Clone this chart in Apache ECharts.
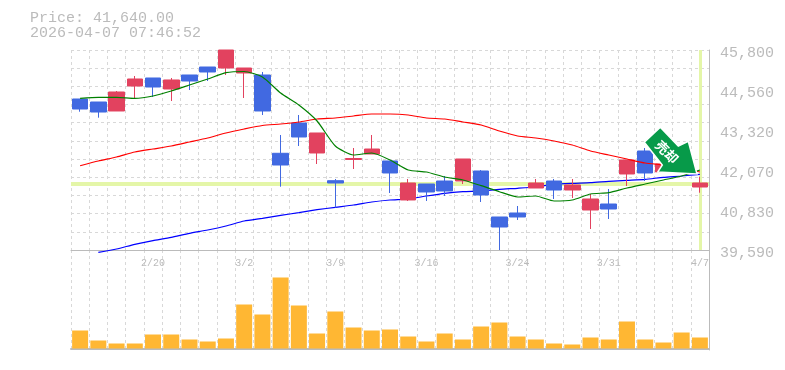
<!DOCTYPE html>
<html><head><meta charset="utf-8">
<style>html,body{margin:0;padding:0;background:#fff}#c{width:785px;height:370px}</style>
<script src="https://cdn.jsdelivr.net/npm/echarts@6/dist/echarts.min.js"></script>
</head><body><div id="c"></div>
<script>
const dates = ['2/16','2/17','2/18','2/19','2/20','2/24','2/25','2/26','2/27','3/2','3/3','3/4','3/5','3/6','3/9','3/10','3/11','3/12','3/13','3/16','3/17','3/18','3/19','3/23','3/24','3/25','3/26','3/27','3/30','3/31','4/1','4/2','4/3','4/6','4/7'];
const shownDates = ['2/20','3/2','3/9','3/16','3/24','3/31','4/7'];
const priceTicks = [39590,40830,42070,43320,44560,45800];
// open, close, low, high
const candles = [
[44279,43968,43884,44279],[44185,43874,43698,44185],[43906,44496,43906,44527],[44682,44900,44300,44993],
[44931,44651,44341,44931],[44589,44869,44216,44931],[45024,44837,44558,45024],[45272,45117,44837,45272],
[45241,45800,45024,45800],[45086,45241,44310,45241],[45024,43906,43782,45117],[42593,42229,41555,43161],
[43533,43099,42819,43782],[42602,43223,42260,43223],[41742,41670,40903,41795],[42400,42431,42105,42757],
[42571,42726,42571,43161],[42354,41981,41360,42354],[41143,41670,41112,41795],[41639,41391,41112,41639],
[41732,41422,41267,41888],[41732,42416,41639,42416],[42043,41298,41080,42074],[40615,40304,39590,40615],
[40739,40615,40522,40956],[41515,41670,41515,41795],[41732,41453,41174,41795],[41453,41608,41205,41795],
[40832,41174,40242,41329],[41018,40863,40553,41484],[41950,42385,41577,42385],[42664,41981,41732,42757],
[42012,42260,42012,42260],[42633,42074,42074,42633],[41546,41670,41369,41865]];
const maShort = [44300,44331,44331,44300,44372,44527,44713,44900,45095,45132,44962,44465,44092,43595,42819,42540,42602,42385,42074,42012,41857,41764,41587,41400,41236,41267,41112,41143,41329,41369,41515,41639,41764,41888,42074];
const maMid = [42207,42354,42478,42633,42726,42819,42943,43068,43223,43347,43456,43502,43564,43658,43689,43751,43813,43813,43782,43689,43658,43564,43471,43285,43130,43068,42974,42850,42664,42540,42416,42291,42229,42136,42012];
const maLong = ['-',39519,39621,39767,39879,39984,40108,40211,40335,40490,40574,40667,40748,40841,40916,40987,41080,41143,41174,41267,41351,41400,41422,41475,41506,41546,41630,41661,41680,41723,41754,41785,41847,41888,41941];
const volumes = [18,8,5,5,14,14,9,7,10,44,34,71,43,15,37,21,18,19,12,7,15,9,22,26,12,9,5,4,11,9,27,9,6,16,11];
const lastPrice = 41640;
const lastDate = '4/7';

const GREY='#bbbbbb', GRID='#d8d8d8', MONO='"Liberation Mono", monospace';
const dashed={show:true,interval:0,lineStyle:{color:GRID,type:[3,3],width:1}};
const line=(name,data,color,z)=>({name,type:'line',data,xAxisIndex:0,yAxisIndex:0,symbol:'none',clip:false,z,smooth:0.2,
  lineStyle:{color,width:1.2},itemStyle:{color},silent:true,animation:false});

const chart=echarts.init(document.getElementById('c'),null,{renderer:'canvas'});
chart.setOption({
  animation:false,backgroundColor:'#fff',
  title:{text:'Price: 41,640.00\n2026-04-07 07:46:52',left:30,top:11,padding:0,
    textStyle:{color:GREY,fontFamily:MONO,fontSize:15,fontWeight:'normal',lineHeight:15}},
  grid:[{left:71,top:50,width:638,height:200},{left:71,top:250,width:638,height:100}],
  xAxis:[
    {type:'category',gridIndex:0,data:dates,boundaryGap:true,
     axisLine:{show:true,lineStyle:{color:GREY,width:1}},axisTick:{show:false},splitLine:dashed,
     axisLabel:{show:true,color:GREY,fontFamily:MONO,fontSize:10,margin:8,
       interval:(i,v)=>shownDates.includes(v),hideOverlap:false}},
    {type:'category',gridIndex:1,data:dates,boundaryGap:true,
     axisLine:{show:true,lineStyle:{color:GREY,width:2}},axisTick:{show:false},splitLine:dashed,axisLabel:{show:false}}
  ],
  yAxis:[
    {type:'value',gridIndex:0,position:'right',min:39590,max:45800,
     axisLine:{show:true,lineStyle:{color:GREY,width:1}},axisTick:{show:false},splitLine:{show:false},
     axisLabel:{show:true,customValues:priceTicks,margin:11,
       formatter:v=>'{p|'+v.toLocaleString('en-US')+'}',
       rich:{p:{color:GREY,fontFamily:MONO,fontSize:15,padding:[6,0,0,0]}}}},
    {type:'value',gridIndex:0,position:'left',min:0,max:11,interval:1,
     axisLine:{show:false},axisTick:{show:false},axisLabel:{show:false},
     splitLine:{show:true,lineStyle:{color:GRID,type:[3,3],width:1}}},
    {type:'value',gridIndex:1,position:'right',min:-1.5,max:98.5,
     axisLine:{show:true,lineStyle:{color:GREY,width:1}},axisTick:{show:false},axisLabel:{show:false},splitLine:{show:false}}
  ],
  series:[
    {name:'guide',type:'line',data:[],xAxisIndex:0,yAxisIndex:0,z:1,silent:true,
     markLine:{z:1,silent:true,symbol:'none',label:{show:false},animation:false,
       lineStyle:{color:'#e4f6a8',width:3,type:'solid'},
       data:[{yAxis:lastPrice,lineStyle:{color:'#e4f6a8',width:4,type:'solid'}},{xAxis:lastDate}]}},
    line('long',maLong,'#0000ff',3),
    {name:'price',type:'candlestick',data:candles,xAxisIndex:0,yAxisIndex:0,barWidth:16,z:4,silent:true,
     itemStyle:{color:'#e2425f',borderColor:'#e2425f',color0:'#4169e1',borderColor0:'#4169e1',borderWidth:1}},
    line('mid',maMid,'#ff0000',5),
    line('short',maShort,'#008000',5),
    {name:'volume',type:'bar',data:volumes,xAxisIndex:1,yAxisIndex:2,barWidth:16,z:3,silent:true,
     itemStyle:{color:'#ffb733'}}
  ],
  graphic:[
    {type:'polygon',z:100,silent:true,
     shape:{points:[[660.3,127.3],[678.3,146],[688.3,141.3],[697,174],[657.7,172],[662.3,165],[644.3,142.3]]},
     style:{fill:'#079a49',stroke:'#ffffff',lineWidth:1.5}},
    {type:'text',z:101,silent:true,x:667,y:152,rotation:-Math.PI/4,
     style:{text:'売却',fill:'#fff',font:'bold 13px "Noto Sans CJK JP"',align:'center',verticalAlign:'middle'}}
  ]
});
</script></body></html>
